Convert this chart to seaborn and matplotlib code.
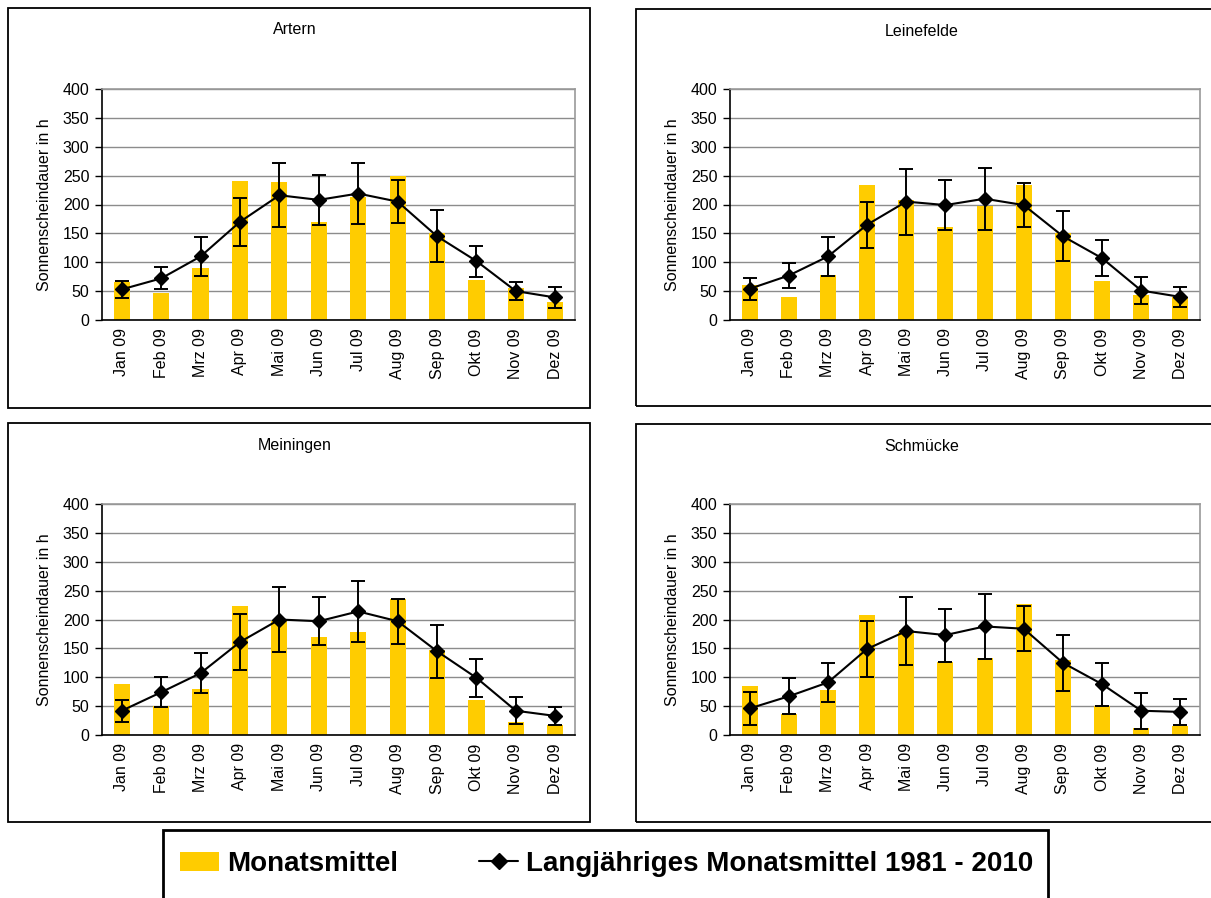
import matplotlib
matplotlib.use("Agg")
import matplotlib.pyplot as plt
from matplotlib.patches import Rectangle, Patch
from matplotlib.lines import Line2D
import seaborn as sns

months = ["Jan 09", "Feb 09", "Mrz 09", "Apr 09", "Mai 09", "Jun 09",
          "Jul 09", "Aug 09", "Sep 09", "Okt 09", "Nov 09", "Dez 09"]
stations = ["Artern", "Leinefelde", "Meiningen", "Schmücke"]

# Monatsmittel 2009 (bars)
artern_bars = [66, 46, 90, 241, 239, 170, 213, 249, 151, 69, 55, 31]
leinefelde_bars = [61, 40, 78, 234, 208, 161, 198, 234, 150, 68, 43, 40]
meiningen_bars = [88, 50, 80, 223, 197, 170, 178, 235, 147, 61, 23, 17]
schmuecke_bars = [85, 36, 78, 208, 179, 126, 133, 227, 130, 50, 12, 16]

# Langjaehriges Monatsmittel 1981 - 2010 (line) and its spread
artern_mean = [53, 72, 110, 170, 216, 208, 219, 205, 145, 102, 50, 39]
artern_err = [15, 19, 34, 42, 55, 43, 52, 37, 45, 27, 16, 18]
leinefelde_mean = [54, 77, 110, 165, 205, 199, 210, 199, 145, 107, 51, 40]
leinefelde_err = [19, 21, 34, 40, 57, 43, 54, 38, 43, 31, 24, 17]
meiningen_mean = [42, 74, 107, 161, 200, 197, 214, 197, 145, 99, 42, 33]
meiningen_err = [19, 26, 35, 48, 57, 42, 53, 39, 46, 33, 23, 15]
schmuecke_mean = [46, 67, 91, 149, 180, 173, 188, 184, 125, 88, 42, 40]
schmuecke_err = [29, 31, 34, 48, 59, 46, 57, 39, 48, 37, 31, 22]

bars = [artern_bars, leinefelde_bars, meiningen_bars, schmuecke_bars]
means = [artern_mean, leinefelde_mean, meiningen_mean, schmuecke_mean]
errs = [artern_err, leinefelde_err, meiningen_err, schmuecke_err]

sns.set_style("white")
plt.rcParams["font.family"] = ["Liberation Sans", "DejaVu Sans"]
plt.rcParams["text.color"] = "black"
plt.rcParams["axes.labelcolor"] = "black"
plt.rcParams["xtick.color"] = "black"
plt.rcParams["ytick.color"] = "black"

W, H = 1211, 898
fig = plt.figure(figsize=(W / 100, H / 100), dpi=100)

# pixel boxes: frame left, top, right, bottom, then axes left, right, top, bottom
boxes = [
    (8, 8, 590, 408, 102, 575, 89, 320),
    (636, 9, 1215, 406, 730, 1200, 89, 320),
    (8, 423, 590, 822, 102, 575, 504, 735),
    (636, 424, 1215, 822, 730, 1200, 504, 735),
]

yellow = "#FFCC00"
grid_col = "#8c8c8c"

for name, b, m, e, box in zip(stations, bars, means, errs, boxes):
    fl, ft, fr, fb, al, ar, at, ab = box
    fig.add_artist(Rectangle((fl / W, 1 - fb / H), (fr - fl) / W, (fb - ft) / H,
                             transform=fig.transFigure, fill=False,
                             edgecolor="black", linewidth=1.3))
    fig.text((fl + fr) / 2 / W - 4 / W, 1 - (ft + 22) / H, name, ha="center",
             va="center", fontsize=11.5)

    ax = fig.add_axes([al / W, 1 - ab / H, (ar - al) / W, (ab - at) / H])
    sns.barplot(x=months, y=b, color=yellow, width=0.41, saturation=1,
                edgecolor="none", ax=ax, zorder=2)
    ax.errorbar(range(len(months)), m, yerr=e, color="black", lw=1.5,
                marker="D", markersize=7.5, elinewidth=1.4, capsize=5,
                capthick=1.4, zorder=3)

    ax.set_ylim(0, 400)
    ax.set_xlim(-0.5, 11.5)
    ax.set_yticks(range(0, 401, 50))
    ax.yaxis.grid(True, color=grid_col, lw=1, zorder=0)
    ax.set_axisbelow(True)
    ax.tick_params(axis="y", length=5, width=1, color="black", labelsize=11.5,
                   left=True, pad=4)
    ax.tick_params(axis="x", length=0, labelsize=11.5, pad=6)
    plt.setp(ax.get_xticklabels(), rotation=90)
    ax.set_xlabel("")
    ax.set_ylabel("Sonnenscheindauer in h", fontsize=11.5, labelpad=8)
    for s in ["left", "bottom"]:
        ax.spines[s].set_color("black")
        ax.spines[s].set_linewidth(1.2)
    for s in ["right", "top"]:
        ax.spines[s].set_visible(True)
        ax.spines[s].set_color("#9a9a9a")
        ax.spines[s].set_linewidth(1.2)

# legend box at the bottom
fig.add_artist(Rectangle((163 / W, -0.02), (1048 - 163) / W, 1 - 830 / H + 0.02,
                         transform=fig.transFigure, fill=False,
                         edgecolor="black", linewidth=2))
handles = [
    Patch(facecolor=yellow, edgecolor="none", label="Monatsmittel"),
    Line2D([0], [0], color="black", lw=1.5, marker="D", markersize=8,
           label="Langjähriges Monatsmittel 1981 - 2010"),
]
fig.legend(handles=handles, loc="center", bbox_to_anchor=(607 / W, 1 - 864 / H),
           ncol=2, frameon=False, prop={"size": 20, "weight": "bold"},
           handlelength=1.4, handletextpad=0.3, columnspacing=2.9,
           handleheight=0.7)

fig.savefig("out.png", dpi=100)
